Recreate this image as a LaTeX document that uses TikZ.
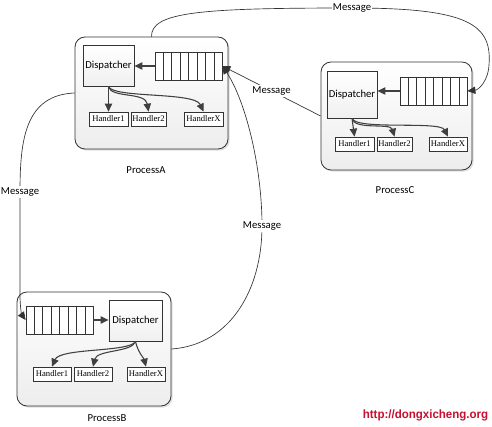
\documentclass[tikz,border=0pt]{standalone}
\usepackage{fontspec}
\setmainfont{Carlito}
\newfontfamily\hfont{Liberation Serif}
\newfontfamily\wfont{Liberation Sans}
\usetikzlibrary{arrows.meta,shadows,calc}
\newlength{\pxu}\setlength{\pxu}{0.75pt}
\definecolor{linegray}{HTML}{333333}
\definecolor{arrgray}{HTML}{404040}
\definecolor{wmred}{RGB}{200,16,46}
\tikzset{
 procbox/.style={draw=linegray, line width=0.6pt, rounded corners=10\pxu, top color=white, bottom color=gray!14, drop shadow={opacity=0.25,shadow xshift=1.2pt,shadow yshift=-1.2pt}, inner sep=0},
 dispbox/.style={draw=linegray, line width=0.6pt, top color=white, bottom color=gray!12, font=\fontsize{8}{9}\selectfont, inner sep=0},
 queuebox/.style={draw=linegray, line width=0.6pt, fill=white, minimum width=67\pxu, minimum height=28\pxu, inner sep=0},
 hbox/.style={draw=linegray, line width=0.5pt, fill=white, font=\hfont\fontsize{6.5}{7}\selectfont, minimum height=14\pxu, inner sep=0, drop shadow={opacity=0.2,shadow xshift=0.8pt,shadow yshift=-0.8pt}},
 plabel/.style={font=\fontsize{8}{9}\selectfont},
 msg/.style={font=\fontsize{8}{9}\selectfont, fill=white, inner sep=1pt},
 arrtip/.style={-{Triangle[length=6pt,width=5.5pt]}},
 innerarrow/.style={draw=arrgray, line width=0.8pt, arrtip},
 msgline/.style={draw=linegray, line width=0.5pt, arrtip},
}
\begin{document}
\begin{tikzpicture}[x=0.75pt,y=-0.75pt]
\fill[white] (0,0) rectangle (492,427);
\useasboundingbox (0,0) rectangle (492,427);

% Process A
\node[procbox, minimum width=153\pxu, minimum height=112\pxu] (pa) at (151.5,93) {};
\node[dispbox, minimum width=51\pxu, minimum height=41\pxu] (da) at (108.5,65.5) {Dispatcher};
\node[queuebox] (qa) at (188.5,66) {};
\node[hbox, minimum width=39\pxu] (ha1) at (108.5,119) {Handler1};
\node[hbox, minimum width=35\pxu] (ha2) at (148.5,119) {Handler2};
\node[hbox, minimum width=39\pxu] (hax) at (203.5,119) {HandlerX};
\node[plabel] (la) at (146,170) {ProcessA};

% Process C
\node[procbox, minimum width=151\pxu, minimum height=108\pxu] (pc) at (396.5,116) {};
\node[dispbox, minimum width=50\pxu, minimum height=47\pxu] (dc) at (352,94.5) {Dispatcher};
\node[queuebox] (qc) at (433.5,91) {};
\node[hbox, minimum width=39\pxu] (hc1) at (354.5,144) {Handler1};
\node[hbox, minimum width=35\pxu] (hc2) at (394.5,144) {Handler2};
\node[hbox, minimum width=38\pxu] (hcx) at (448,144) {HandlerX};
\node[plabel] (lc) at (395,190) {ProcessC};

% Process B
\node[procbox, minimum width=154\pxu, minimum height=114\pxu] (pb) at (94,349) {};
\node[queuebox] (qb) at (59.5,320) {};
\node[dispbox, minimum width=53\pxu, minimum height=41\pxu] (db) at (135.5,320.5) {Dispatcher};
\node[hbox, minimum width=38\pxu] (hb1) at (52,374) {Handler1};
\node[hbox, minimum width=38\pxu] (hb2) at (93,374) {Handler2};
\node[hbox, minimum width=38\pxu] (hbx) at (146,374) {HandlerX};
\node[plabel] (lb) at (107,418) {ProcessB};

% queue cells
\foreach \q in {qa,qb,qc}{
  \foreach \i in {1,...,7}{
    \draw[linegray, line width=0.5pt] ($(\q.north west)!\i/8!(\q.north east)$) -- ($(\q.south west)!\i/8!(\q.south east)$);
  }
}

% internal arrows A
\draw[innerarrow] (qa.west) -- (da.east |- qa.west);
\draw[innerarrow] (da.south) -- (ha1.north);
\draw[innerarrow] (da.south) .. controls +(2,12) and +(-3,-20) .. (ha2.north);
\draw[innerarrow] (da.south) .. controls +(4,12) and +(-9,-20) .. (hax.north);

% internal arrows C
\draw[innerarrow] (qc.west) -- (dc.east |- qc.west);
\draw[innerarrow] (dc.south) -- (hc1.north);
\draw[innerarrow] (dc.south) .. controls +(2,12) and +(-4,-14) .. (hc2.north);
\draw[innerarrow] (dc.south) .. controls +(4,12) and +(-8,-16) .. (hcx.north);

% internal arrows B
\draw[innerarrow] (qb.east) -- (db.west |- qb.east);
\draw[innerarrow] (db.south) .. controls +(-5,11) and +(8,-19) .. (hb1.north);
\draw[innerarrow] (db.south) .. controls +(-3,11) and +(4,-17) .. (hb2.north);
\draw[innerarrow] (db.south) .. controls +(2,10) and +(-2,-8) .. (hbx.north);

% message connectors
\draw[msgline] (pa.north) .. controls (151,12) and (200,8) .. (352,8) node[msg] (m1) {Message}
   .. controls (470,8) and (492,25) .. (489,65) .. controls (488,82) and (478,90) .. (qc.east);
\draw[msgline] (pc.west) -- node[msg, pos=0.5] (m2) {Message} (qa.east);
\draw[msgline] (pa.west) .. controls (25,95) and (20,140) .. (20,192) node[msg] (m3) {Message}
   -- (20,295) .. controls (20,308) and (22,315) .. (qb.west);
\draw[msgline] (pb.east) .. controls (230,345) and (262,290) .. (262,226) node[msg] (m4) {Message}
   .. controls (262,165) and (245,100) .. (qa.east);

% watermark
\node[font=\wfont\bfseries\fontsize{9}{10}\selectfont, text=wmred, xscale=0.96] (wmark) at (425.5,415) {http://dongxicheng.org};
\end{tikzpicture}
\end{document}
